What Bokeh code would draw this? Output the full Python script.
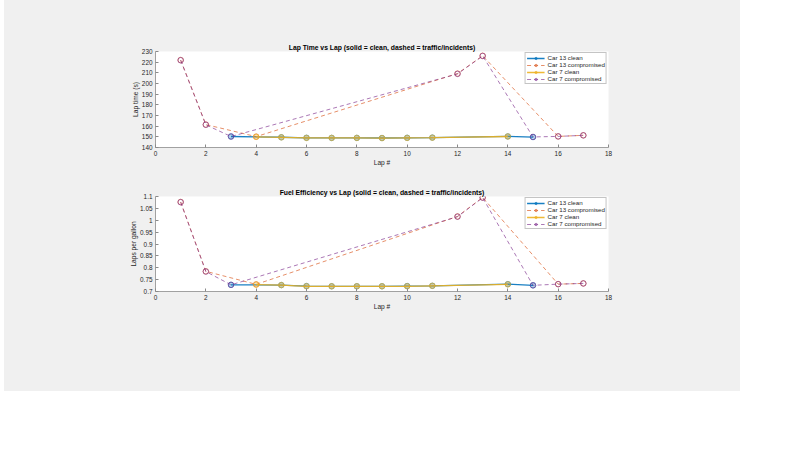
from bokeh.plotting import figure
from bokeh.models import FixedTicker, Legend, LegendItem
from bokeh.layouts import column
from bokeh.embed import file_html
from bokeh.resources import INLINE

# ---------------- data ----------------
laps_13_clean = [3, 5, 6, 7, 8, 9, 10, 11, 14, 15]
laps_13_comp = [1, 2, 4, 12, 13, 16, 17]
laps_7_clean = [4, 5, 6, 7, 8, 9, 10, 11, 14]
laps_7_comp = [1, 2, 3, 12, 13, 15, 16, 17]

time_13_clean = [150.3, 149.6, 149.1, 149.0, 149.0, 148.9, 149.1, 149.3, 150.4, 149.8]
time_13_comp = [222.0, 161.5, 150.2, 209.3, 226.0, 150.4, 151.4]
time_7_clean = [150.0, 149.5, 149.0, 149.0, 149.0, 148.8, 149.0, 149.2, 150.3]
time_7_comp = [221.8, 161.3, 150.3, 209.0, 225.8, 149.9, 150.4, 151.4]

fuel_13_clean = [0.728, 0.727, 0.723, 0.722, 0.722, 0.722, 0.723, 0.724, 0.731, 0.726]
fuel_13_comp = [1.077, 0.785, 0.730, 1.016, 1.096, 0.731, 0.734]
fuel_7_clean = [0.729, 0.727, 0.722, 0.722, 0.722, 0.722, 0.722, 0.724, 0.730]
fuel_7_comp = [1.076, 0.784, 0.728, 1.015, 1.095, 0.726, 0.731, 0.734]

x_ticks = [0, 2, 4, 6, 8, 10, 12, 14, 16, 18]
time_ticks = [140, 150, 160, 170, 180, 190, 200, 210, 220, 230]
fuel_ticks = [0.7, 0.75, 0.8, 0.85, 0.9, 0.95, 1.0, 1.05, 1.1]
fuel_tick_labels = ["0.7", "0.75", "0.8", "0.85", "0.9", "0.95", "1", "1.05", "1.1"]

series_names = ["Car 13 clean", "Car 13 compromised", "Car 7 clean", "Car 7 compromised"]
colors = ["#0072BD", "#D95319", "#EDB120", "#7E2F8E"]

FONT = "Liberation Sans"
PANEL = "#f0f0f0"


def make_plot(title, ylabel, ys, yr, yticks, ylabels, h, top, bottom):
    p = figure(width=736, height=h, x_range=(0, 18), y_range=yr,
               output_backend="svg", toolbar_location=None,
               min_border_left=151, min_border_right=132,
               min_border_top=top, min_border_bottom=bottom)
    p.border_fill_color = PANEL
    p.background_fill_color = "white"
    p.outline_line_color = None
    p.grid.visible = False
    p.title.text = title
    p.title.align = "center"
    p.title.text_font = FONT
    p.title.text_font_size = "6.8px"
    p.title.text_font_style = "bold"
    p.title.text_color = "#000000"
    p.title.standoff = 2
    p.xaxis.ticker = FixedTicker(ticks=x_ticks)
    p.yaxis.ticker = FixedTicker(ticks=yticks)
    if ylabels is not None:
        p.yaxis.major_label_overrides = {t: l for t, l in zip(yticks, ylabels)}
    p.xaxis.axis_label = "Lap #"
    p.yaxis.axis_label = ylabel
    for ax in (p.xaxis[0], p.yaxis[0]):
        ax.axis_line_color = "#8a8a8a"
        ax.axis_line_width = 0.8
        ax.major_tick_line_color = "#8a8a8a"
        ax.major_tick_in = 3
        ax.major_tick_out = 0
        ax.minor_tick_line_color = None
        ax.major_label_text_font = FONT
        ax.major_label_text_font_size = "6.4px"
        ax.major_label_text_color = "#262626"
        ax.axis_label_text_font = FONT
        ax.axis_label_text_font_size = "6.6px"
        ax.axis_label_text_font_style = "normal"
        ax.axis_label_text_color = "#262626"
        ax.major_label_standoff = 3
        ax.axis_label_standoff = 0

    xs = [laps_13_clean, laps_13_comp, laps_7_clean, laps_7_comp]
    items = []
    for i in range(4):
        dashed = i in (1, 3)
        l = p.line(xs[i], ys[i], line_color=colors[i],
                   line_width=1.0 if dashed else 1.3,
                   line_dash="4 3" if dashed else "solid",
                   line_alpha=0.65 if dashed else 0.9)
        s = p.scatter(xs[i], ys[i], marker="circle", size=5.5,
                      line_color=colors[i], line_width=0.9,
                      fill_color=colors[i],
                      fill_alpha=0.0 if dashed else 0.3,
                      line_alpha=0.7)
        items.append(LegendItem(label=series_names[i], renderers=[l, s]))
    leg = Legend(items=items, location="top_right")
    leg.label_text_font = FONT
    leg.label_text_font_size = "6.2px"
    leg.label_text_color = "#262626"
    leg.label_height = 6
    leg.glyph_height = 6
    leg.glyph_width = 18
    leg.label_standoff = 3
    leg.spacing = 0
    leg.padding = 1
    leg.margin = 1
    leg.border_line_color = "#8a8a8a"
    leg.border_line_width = 0.8
    leg.background_fill_color = "white"
    leg.background_fill_alpha = 1.0
    p.add_layout(leg)
    return p


p1 = make_plot("Lap Time vs Lap (solid = clean, dashed = traffic/incidents)",
               "Lap time (s)",
               [time_13_clean, time_13_comp, time_7_clean, time_7_comp],
               (140, 230), time_ticks, None, 176, 51, 29)
p2 = make_plot("Fuel Efficiency vs Lap (solid = clean, dashed = traffic/incidents)",
               "Laps per gallon",
               [fuel_13_clean, fuel_13_comp, fuel_7_clean, fuel_7_comp],
               (0.7, 1.1), fuel_ticks, fuel_tick_labels, 215, 20, 100)

layout = column(p1, p2, spacing=0, margin=(0, 0, 0, 4),
                styles={"background-color": PANEL})

open("out.html", "w").write(file_html(layout, INLINE))
